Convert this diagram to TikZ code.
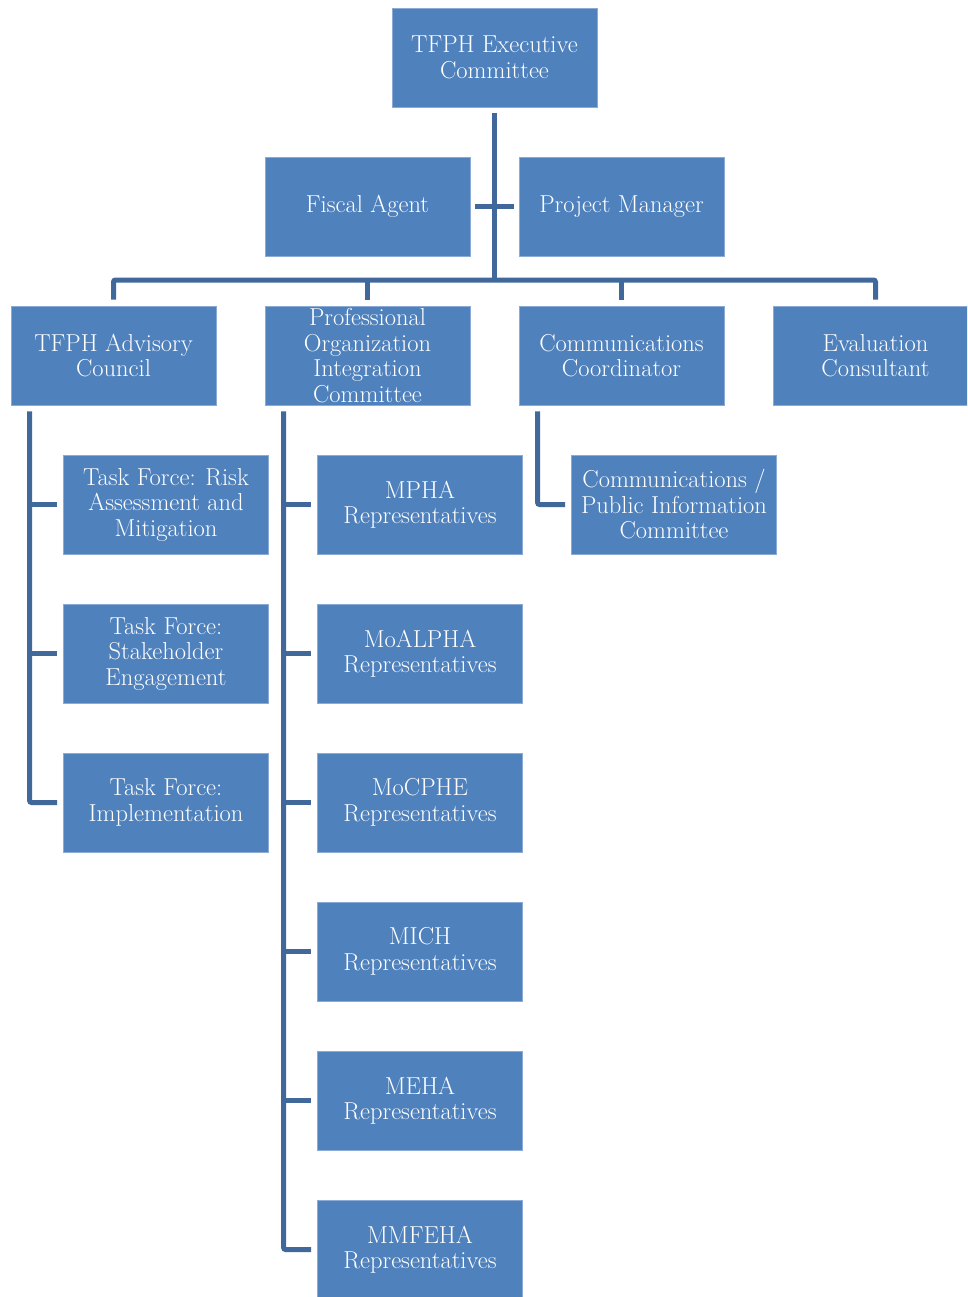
\documentclass[tikz,border=0pt]{standalone}
\usepackage{xcolor}
\definecolor{orgblue}{RGB}{79,129,189}
\definecolor{orgedge}{RGB}{140,170,214}
\definecolor{orgline}{RGB}{64,104,155}
\usetikzlibrary{positioning,calc}

\begin{document}
\begin{tikzpicture}[x=1pt,y=-1pt,
  box/.style={fill=orgblue,draw=orgedge,line width=0.8pt,minimum width=205pt,
    minimum height=99pt,inner sep=0pt,align=center,text=white,
    font=\fontsize{24.5}{25.5}\selectfont},
  conn/.style={orgline,line width=5pt,rounded corners=2pt}
]
  \clip (0,0) rectangle (967,1297);
  \useasboundingbox (0,0) rectangle (967,1297);

  % Top
  \node[box] (exec) at (494.5,57.5) {TFPH Executive\\Committee};
  \node[box] (fiscal) at (367.5,206.5) {Fiscal Agent};
  \node[box] (pm) at (621.5,206.5) {Project Manager};

  % Second row
  \node[box] (advisory) at (113.5,355.5) {TFPH Advisory\\Council};
  \node[box] (poic) at (367.5,355.5) {Professional\\Organization\\Integration\\Committee};
  \node[box] (commco) at (621.5,355.5) {Communications\\Coordinator};
  \node[box] (eval) at (875.5,355.5) {Evaluation\\Consultant};

  % Task forces
  \node[box] (tf1) at (166,504.5) {Task Force: Risk\\Assessment and\\Mitigation};
  \node[box] (tf2) at (166,653.5) {Task Force:\\Stakeholder\\Engagement};
  \node[box] (tf3) at (166,802.5) {Task Force:\\Implementation};

  % Representatives
  \node[box] (rep1) at (420,504.5) {MPHA\\Representatives};
  \node[box] (rep2) at (420,653.5) {MoALPHA\\Representatives};
  \node[box] (rep3) at (420,802.5) {MoCPHE\\Representatives};
  \node[box] (rep4) at (420,951.5) {MICH\\Representatives};
  \node[box] (rep5) at (420,1100.5) {MEHA\\Representatives};
  \node[box] (rep6) at (420,1249.5) {MMFEHA\\Representatives};

  \node[box] (cpic) at (674,504.5) {Communications /\\Public Information\\Committee};

  % Connectors
  \coordinate (hub) at (494.5,280);
  \draw[conn] ($(exec.south)+(0,6)$) -- (hub);
  \draw[conn] ($(fiscal.east)+(5,0)$) -- ($(pm.west)+(-5,0)$);
  \draw[conn] ($(advisory.north)+(0,-6)$) |- (hub) -| ($(eval.north)+(0,-6)$);
  \draw[conn] ($(poic.north)+(0,-6)$) -- (poic.north |- hub);
  \draw[conn] ($(commco.north)+(0,-6)$) -- (commco.north |- hub);

  \coordinate (advtop) at ($(advisory.south west)+(19,6)$);
  \draw[conn] (advtop) |- ($(tf3.west)+(-6,0)$);
  \foreach \n in {tf1,tf2}
    \draw[conn] (advtop |- \n.west) -- ($(\n.west)+(-6,0)$);

  \coordinate (poictop) at ($(poic.south west)+(19,6)$);
  \draw[conn] (poictop) |- ($(rep6.west)+(-6,0)$);
  \foreach \n in {rep1,rep2,rep3,rep4,rep5}
    \draw[conn] (poictop |- \n.west) -- ($(\n.west)+(-6,0)$);

  \coordinate (cctop) at ($(commco.south west)+(19,6)$);
  \draw[conn] (cctop) |- ($(cpic.west)+(-6,0)$);
\end{tikzpicture}
\end{document}
